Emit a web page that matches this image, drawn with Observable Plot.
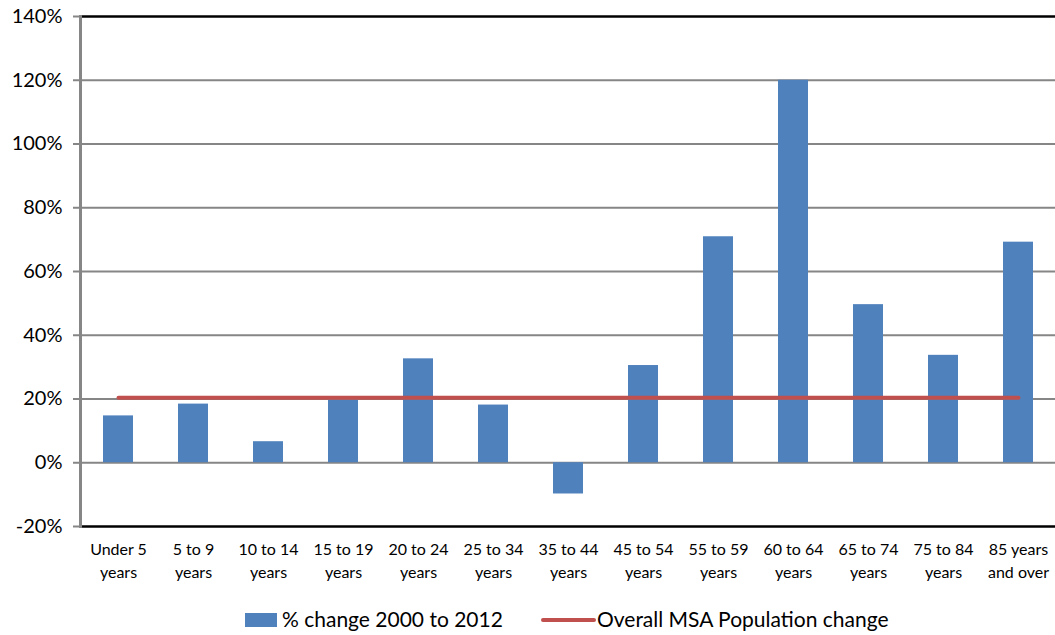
<!DOCTYPE html>
<html>
<head>
<meta charset="utf-8">
<script src="https://cdn.jsdelivr.net/npm/d3@7"></script>
<script src="https://cdn.jsdelivr.net/npm/@observablehq/plot@0.6"></script>
<style>
  html, body { margin: 0; padding: 0; background: #fff; }
  #chart { width: 1055px; }
  .legend { height: 45px; font-family: Lato, "Liberation Sans", sans-serif; font-size: 21px; color: #000; position: relative; }
  .sw { position: absolute; }
</style>
</head>
<body>
<div id="chart"></div>
<script>
const categories = ["Under 5\nyears", "5 to 9\nyears", "10 to 14\nyears", "15 to 19\nyears", "20 to 24\nyears", "25 to 34\nyears", "35 to 44\nyears", "45 to 54\nyears", "55 to 59\nyears", "60 to 64\nyears", "65 to 74\nyears", "75 to 84\nyears", "85 years\nand over"];
const pctChange = [14.7, 18.4, 6.6, 19.7, 32.6, 18.1, -9.8, 30.5, 70.9, 120.0, 49.6, 33.7, 69.2];
const overallChange = 20.4;
const yTicks = [-20, 0, 20, 40, 60, 80, 100, 120, 140];
const seriesNames = ["% change 2000 to 2012", "Overall MSA Population change"];

const barData = categories.map((c, i) => ({cat: c, v: pctChange[i]}));
const lineData = categories.map(c => ({cat: c, v: overallChange}));

const W = 1055, H = 590;
const plot = Plot.plot({
  width: W,
  height: H,
  marginLeft: 80,
  marginRight: 0,
  marginTop: 16,
  marginBottom: 64,
  style: {fontFamily: "Lato, 'Liberation Sans', sans-serif", background: "#fff", color: "#000"},
  x: {domain: categories, paddingInner: 0.6, paddingOuter: 0.3, align: 0.5, label: null},
  y: {domain: [-20, 140], label: null},
  marks: [
    Plot.ruleY(yTicks.filter(t => t !== -20 && t !== 140), {stroke: "#868686", strokeWidth: 2}),
    Plot.ruleY([-20, 140], {stroke: "#000", strokeWidth: 2.5}),
    Plot.barY(barData, {x: "cat", y: "v", fill: "#4F81BD"}),
    Plot.line(lineData, {x: "cat", y: "v", stroke: "#C0504D", strokeWidth: 4, strokeLinecap: "round"}),
    Plot.frame({anchor: "left", stroke: "#868686", strokeWidth: 3}),
    Plot.axisY({ticks: yTicks, tickFormat: d => d + "%", tickSize: 7, tickPadding: 11, stroke: "#868686", strokeWidth: 2, fontSize: 20, fill: "#000", label: null}),
    Plot.axisX({tickSize: 0, tickPadding: 12, fontSize: 16, lineHeight: 1.45, fill: "#000", label: null})
  ]
});
document.getElementById("chart").appendChild(plot);

const leg = document.createElement("div");
leg.className = "legend";
leg.innerHTML = `
  <span class="sw" style="left:245px;top:23px;width:32px;height:14px;background:#4F81BD"></span>
  <span style="position:absolute;left:282px;top:16px">${seriesNames[0]}</span>
  <span class="sw" style="left:541px;top:28px;width:55px;height:4px;border-radius:2px;background:#C0504D"></span>
  <span style="position:absolute;left:597px;top:16px">${seriesNames[1]}</span>`;
document.body.appendChild(leg);
</script>
</body>
</html>
